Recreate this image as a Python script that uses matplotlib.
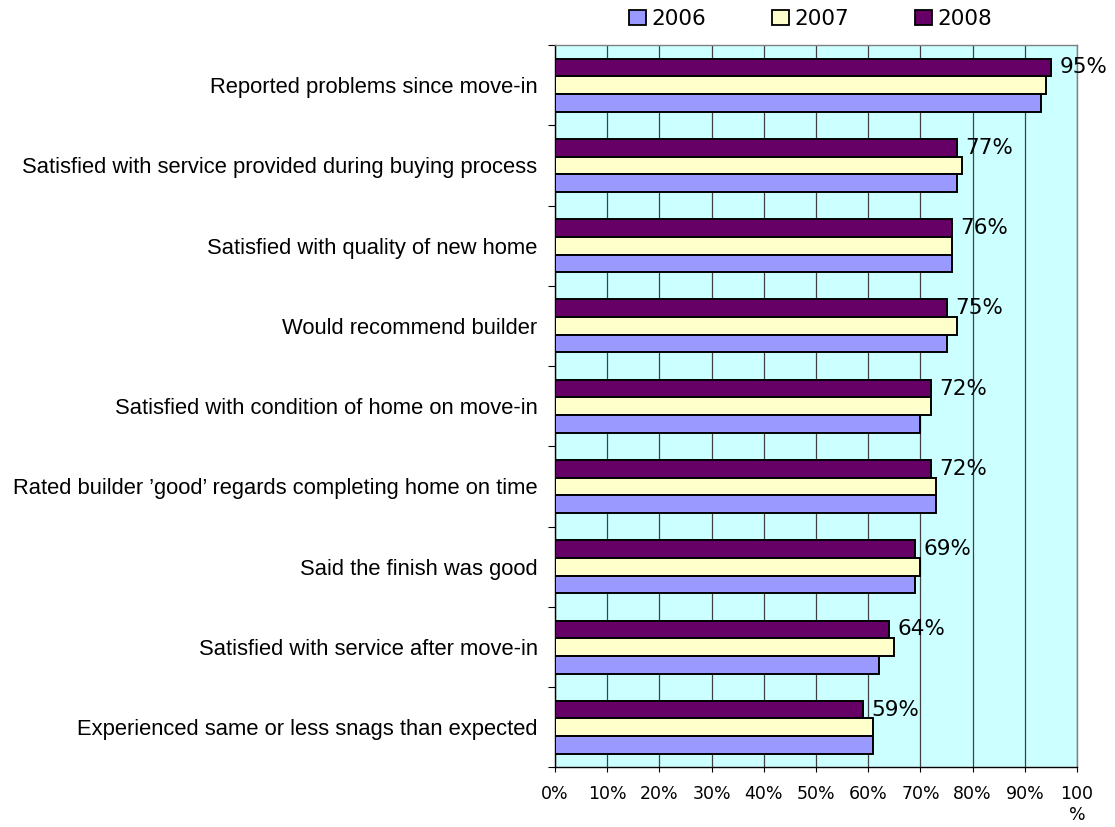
import matplotlib
matplotlib.use('Agg')
import matplotlib.pyplot as plt
from matplotlib.patches import Patch
from matplotlib.ticker import FixedLocator, MultipleLocator, FuncFormatter
import numpy as np

categories = [
    'Reported problems since move-in',
    'Satisfied with service provided during buying process',
    'Satisfied with quality of new home',
    'Would recommend builder',
    'Satisfied with condition of home on move-in',
    'Rated builder \u2019good\u2019 regards completing home on time',
    'Said the finish was good',
    'Satisfied with service after move-in',
    'Experienced same or less snags than expected',
]
years = ['2006', '2007', '2008']
values_2006 = [93, 77, 76, 75, 70, 73, 69, 62, 61]
values_2007 = [94, 78, 76, 77, 72, 73, 70, 65, 61]
values_2008 = [95, 77, 76, 75, 72, 72, 69, 64, 59]

colors = {'2006': '#9999FF', '2007': '#FFFFCC', '2008': '#660066'}

fig = plt.figure(figsize=(11.15, 8.27), dpi=100)
ax = fig.add_axes([0.4978, 0.0720, 0.4682, 0.8736])
ax.set_facecolor('#CCFFFF')

pos = np.arange(len(categories))
h = 0.22
series = [(values_2008, '2008', -h), (values_2007, '2007', 0.0), (values_2006, '2006', h)]
for vals, yr, off in series:
    ax.barh(pos + off, vals, height=h, color=colors[yr], edgecolor='black',
            linewidth=1.4, zorder=3)

# value labels on the latest year only
for i, v in enumerate(values_2008):
    ax.annotate(f'{v}%', xy=(v, pos[i] - h), xytext=(6, 0), textcoords='offset points',
                va='center', ha='left', fontsize=15.5, family='DejaVu Sans', zorder=4)

ax.set_xlim(0, 100)
ax.set_ylim(len(categories) - 0.5, -0.5)

ax.xaxis.set_major_locator(MultipleLocator(10))
ax.xaxis.set_major_formatter(FuncFormatter(lambda x, p: '100\n%' if x >= 100 else f'{x:.0f}%'))
ax.grid(axis='x', color='#404040', linewidth=0.9, zorder=0)
ax.set_axisbelow(True)

ax.set_yticks(pos)
ax.set_yticklabels(categories, family='Liberation Sans', fontsize=15.8)
ax.yaxis.set_minor_locator(FixedLocator(np.arange(-0.5, len(categories), 1.0)))
ax.tick_params(axis='y', which='major', length=0, pad=12.6)
ax.tick_params(axis='y', which='minor', length=5, width=0.8, direction='out')
ax.tick_params(axis='x', which='major', length=3.6, width=0.8, pad=9, labelsize=12.5)

for side in ('top', 'right'):
    ax.spines[side].set_color('#808080')
    ax.spines[side].set_linewidth(1.0)
for side in ('left', 'bottom'):
    ax.spines[side].set_color('black')
    ax.spines[side].set_linewidth(1.0)

handles = [Patch(facecolor=colors[y], edgecolor='black', linewidth=1.3, label=y) for y in years]
fig.legend(handles=handles, loc='center', bbox_to_anchor=(0.727, 0.977), ncol=3,
           frameon=False, fontsize=15.5, handlelength=0.75, handleheight=0.75,
           handletextpad=0.25, columnspacing=3.1)

fig.savefig('out.png', dpi=100)
